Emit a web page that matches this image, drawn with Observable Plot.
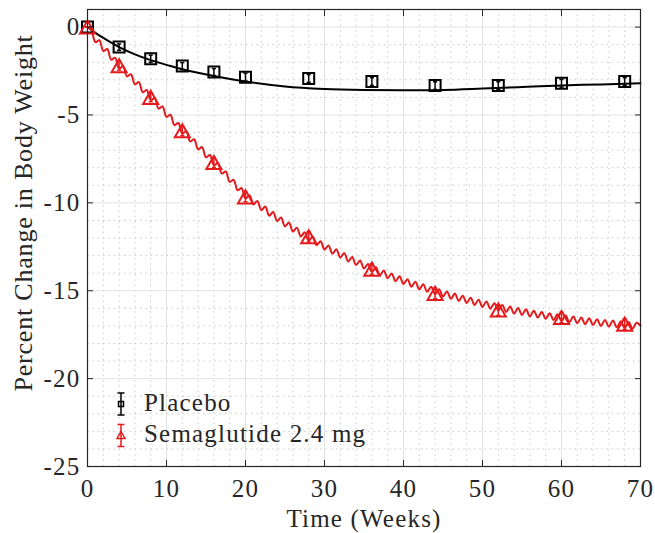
<!DOCTYPE html>
<html>
<head>
<meta charset="utf-8">
<script src="https://cdn.jsdelivr.net/npm/d3@7"></script>
<script src="https://cdn.jsdelivr.net/npm/@observablehq/plot@0.6"></script>
<style>
  body { margin: 0; background: #fff; }
  #wrap { width: 655px; height: 533px; }
  svg text { letter-spacing: 1.2px; }
</style>
</head>
<body>
<div id="wrap"></div>
<script>
// ---------- data ----------
const xTicks = [0, 10, 20, 30, 40, 50, 60, 70];
const yTicks = [0, -5, -10, -15, -20, -25];
const xMinor = [2,4,6,8,12,14,16,18,22,24,26,28,32,34,36,38,42,44,46,48,52,54,56,58,62,64,66,68];
const yMinor = [1,-1,-2,-3,-4,-6,-7,-8,-9,-11,-12,-13,-14,-16,-17,-18,-19,-21,-22,-23,-24];

const obsWeeks = [0, 4, 8, 12, 16, 20, 28, 36, 44, 52, 60, 68];
const placeboObs = [0, -1.14, -1.8, -2.22, -2.56, -2.85, -2.92, -3.1, -3.33, -3.33, -3.2, -3.1];
const placeboErr = [0, 0.18, 0.2, 0.2, 0.2, 0.22, 0.22, 0.22, 0.22, 0.22, 0.22, 0.22];
const semaObs = [0, -2.2, -4.0, -5.9, -7.71, -9.66, -11.93, -13.77, -15.15, -16.1, -16.52, -16.9];
const semaErr = [0, 0.25, 0.25, 0.28, 0.28, 0.28, 0.3, 0.3, 0.3, 0.3, 0.3, 0.3];

// placebo model curve (smooth)
const placeboModelWeeks = [0, 1, 2, 4, 6, 8, 10, 12, 16, 20, 25, 30, 35, 40, 45, 50, 55, 60, 65, 70];
const placeboModel = [0, -0.33, -0.62, -1.14, -1.55, -1.88, -2.15, -2.4, -2.78, -3.1, -3.38, -3.52, -3.58, -3.6, -3.58, -3.5, -3.41, -3.32, -3.26, -3.2];

// semaglutide model: value just after each weekly dose (weeks 0..70) and mid-week bumps (weeks 0.5..69.5)
const semaTrough = [0,-0.86,-1.36,-1.86,-2.36,-2.81,-3.26,-3.71,-4.16,-4.64,-5.11,-5.58,-6.06,-6.51,-6.96,-7.41,-7.86,-8.34,-8.81,-9.28,-9.76,-10.09,-10.41,-10.73,-11.04,-11.34,-11.63,-11.91,-12.16,-12.41,-12.66,-12.89,-13.11,-13.33,-13.54,-13.74,-13.94,-14.12,-14.29,-14.46,-14.62,-14.77,-14.92,-15.06,-15.2,-15.33,-15.46,-15.58,-15.7,-15.81,-15.92,-16.02,-16.12,-16.21,-16.3,-16.38,-16.46,-16.53,-16.6,-16.67,-16.73,-16.79,-16.85,-16.9,-16.95,-17.0,-17.04,-17.08,-17.12,-17.16,-16.98];
const semaPeak = [-0.17,-0.75,-1.25,-1.75,-2.23,-2.68,-3.13,-3.58,-4.04,-4.52,-4.99,-5.46,-5.92,-6.38,-6.83,-7.28,-7.74,-8.22,-8.69,-9.16,-9.57,-9.89,-10.21,-10.52,-10.83,-11.12,-11.41,-11.68,-11.92,-12.18,-12.42,-12.64,-12.86,-13.08,-13.28,-13.48,-13.67,-13.85,-14.02,-14.18,-14.34,-14.49,-14.63,-14.77,-14.91,-15.04,-15.16,-15.28,-15.4,-15.51,-15.61,-15.71,-15.81,-15.9,-15.98,-16.06,-16.14,-16.21,-16.28,-16.34,-16.4,-16.46,-16.52,-16.57,-16.62,-16.66,-16.7,-16.74,-16.78,-16.82];

// ---------- tables ----------
const placeboPts = obsWeeks.map((w, i) => ({w, v: placeboObs[i], lo: placeboObs[i] - placeboErr[i], hi: placeboObs[i] + placeboErr[i]}));
const semaPts = obsWeeks.map((w, i) => ({w, v: semaObs[i], lo: semaObs[i] - semaErr[i], hi: semaObs[i] + semaErr[i]}));
const placeboLine = placeboModelWeeks.map((w, i) => ({w, v: placeboModel[i]}));
const semaLine = [];
semaTrough.forEach((v, k) => {
  semaLine.push({w: k, v});
  if (k < semaPeak.length) semaLine.push({w: k + 0.5, v: semaPeak[k]});
});

const RED = "#e41a1c";
const INK = "#262626";

// custom symbols
const capSym = { draw(ctx, size) { const h = Math.sqrt(size) / 2; ctx.moveTo(-h, 0); ctx.lineTo(h, 0); } };
const triSym = { draw(ctx, size) {
  const s = Math.sqrt(size);
  const h = s * Math.sqrt(3) / 2;
  ctx.moveTo(0, -h / 2); ctx.lineTo(s / 2, h / 2); ctx.lineTo(-s / 2, h / 2); ctx.closePath();
} };
const sqSym = { draw(ctx, size) { const h = Math.sqrt(size) / 2; ctx.rect(-h, -h, 2 * h, 2 * h); } };

const fmt = d => `${d}`;

const plot = Plot.plot({
  width: 655,
  height: 533,
  marginLeft: 87,
  marginRight: 15,
  marginTop: 9,
  marginBottom: 67,
  style: { fontFamily: "'Liberation Serif', 'Times New Roman', serif", fontSize: "25px", color: INK, background: "#fff", overflow: "visible" },
  x: { domain: [0, 70] },
  y: { domain: [-25, 1] },
  marks: [
    Plot.gridX(xMinor, { stroke: "#c8c8c8", strokeOpacity: 1, strokeWidth: 1, strokeDasharray: "1.5,3.8" }),
    Plot.gridY(yMinor, { stroke: "#c8c8c8", strokeOpacity: 1, strokeWidth: 1, strokeDasharray: "1.5,3.8" }),
    Plot.gridX(xTicks, { stroke: "#e2e2e2", strokeOpacity: 1, strokeWidth: 1 }),
    Plot.gridY(yTicks, { stroke: "#e2e2e2", strokeOpacity: 1, strokeWidth: 1 }),
    // model lines
    Plot.line(placeboLine, { x: "w", y: "v", stroke: "#000", strokeWidth: 2, curve: "catmull-rom" }),
    Plot.line(semaLine, { x: "w", y: "v", stroke: RED, strokeWidth: 2, curve: "catmull-rom" }),
    // error bars
    Plot.ruleX(placeboPts, { x: "w", y1: "lo", y2: "hi", stroke: "#000", strokeWidth: 1.5 }),
    Plot.dot(placeboPts, { x: "w", y: "lo", symbol: capSym, r: 2.3, stroke: "#000", strokeWidth: 1.5 }),
    Plot.dot(placeboPts, { x: "w", y: "hi", symbol: capSym, r: 2.3, stroke: "#000", strokeWidth: 1.5 }),
    Plot.ruleX(semaPts, { x: "w", y1: "lo", y2: "hi", stroke: RED, strokeWidth: 1.5 }),
    Plot.dot(semaPts, { x: "w", y: "lo", symbol: capSym, r: 2.3, stroke: RED, strokeWidth: 1.5 }),
    Plot.dot(semaPts, { x: "w", y: "hi", symbol: capSym, r: 2.3, stroke: RED, strokeWidth: 1.5 }),
    // markers
    Plot.dot(placeboPts, { x: "w", y: "v", symbol: sqSym, r: 6.2, stroke: "#000", strokeWidth: 2, fill: "none" }),
    Plot.dot(semaPts, { x: "w", y: "v", symbol: triSym, r: 8.5, stroke: RED, strokeWidth: 2, fill: "none" }),
    // axes
    Plot.axisX(xTicks, { anchor: "bottom", tickSize: -6, tickPadding: 19, tickFormat: fmt, label: null, stroke: INK, fill: INK }),
    Plot.axisX(xTicks, { anchor: "top", tickSize: -6, tickFormat: () => "", label: null, stroke: INK }),
    Plot.axisY(yTicks, { anchor: "left", tickSize: -6, tickPadding: 13, tickFormat: fmt, label: null, stroke: INK, fill: INK }),
    Plot.axisY(yTicks, { anchor: "right", tickSize: -6, tickFormat: () => "", label: null, stroke: INK }),
    Plot.frame({ stroke: INK, strokeWidth: 1.2 })
  ]
});

document.getElementById("wrap").appendChild(plot);

// axis titles and legend (real text) added to the same SVG
const svg = d3.select(plot);
const ff = "'Liberation Serif', 'Times New Roman', serif";
svg.append("text")
  .attr("x", 364).attr("y", 527)
  .attr("text-anchor", "middle")
  .attr("font-family", ff).attr("font-size", 25).attr("fill", INK)
  .text("Time (Weeks)");
svg.append("text")
  .attr("transform", "translate(32,213) rotate(-90)")
  .attr("text-anchor", "middle")
  .attr("font-family", ff).attr("font-size", 26).attr("fill", INK)
  .style("letter-spacing", "0.8px")
  .text("Percent Change in Body Weight");

const leg = svg.append("g").attr("text-anchor", "start");
const legendItems = [
  { label: "Placebo", color: "#000", sym: "square", cy: 404, base: 411 },
  { label: "Semaglutide 2.4 mg", color: RED, sym: "tri", cy: 435.5, base: 442 }
];
legendItems.forEach(it => {
  const g = leg.append("g").attr("stroke", it.color).attr("stroke-width", 1.5).attr("fill", "none");
  g.append("line").attr("x1", 121).attr("x2", 121).attr("y1", it.cy - 11).attr("y2", it.cy + 11);
  g.append("line").attr("x1", 117.5).attr("x2", 124.5).attr("y1", it.cy - 11).attr("y2", it.cy - 11);
  g.append("line").attr("x1", 117.5).attr("x2", 124.5).attr("y1", it.cy + 11).attr("y2", it.cy + 11);
  if (it.sym === "square") {
    g.append("rect").attr("x", 118.5).attr("y", it.cy - 2.5).attr("width", 5).attr("height", 5);
  } else {
    g.append("path").attr("d", `M121,${it.cy - 4} L125,${it.cy + 3} L117,${it.cy + 3} Z`);
  }
  leg.append("text")
    .attr("x", 144).attr("y", it.base)
    .attr("text-anchor", "start")
    .attr("font-family", ff).attr("font-size", 25).attr("fill", INK)
    .text(it.label);
});
</script>
</body>
</html>
